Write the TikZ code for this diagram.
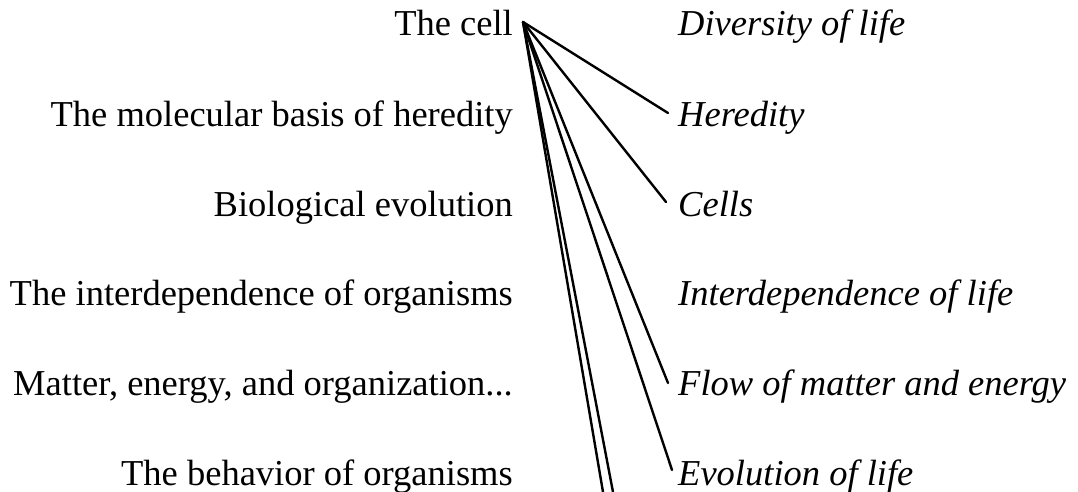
\documentclass[tikz,border=0pt]{standalone}
\usepackage{fontspec}
\setmainfont{Liberation Serif}
\begin{document}
\begin{tikzpicture}[x=1pt,y=-1pt,
  lefttxt/.style={anchor=base east,inner sep=0pt,font=\fontsize{36.5}{40}\selectfont},
  righttxt/.style={anchor=base west,inner sep=0pt,font=\fontsize{36.5}{40}\selectfont\itshape},
  link/.style={line width=2.4pt,line cap=round}]
\useasboundingbox (0,0) rectangle (1078,492);
\node[lefttxt] (l1) at (513,36) {The cell};
\node[lefttxt] (l2) at (513,126) {The molecular basis of heredity};
\node[lefttxt] (l3) at (513,216) {Biological evolution};
\node[lefttxt] (l4) at (513,305) {The interdependence of organisms};
\node[lefttxt] (l5) at (513,395) {Matter, energy, and organization...};
\node[lefttxt] (l6) at (513,485) {The behavior of organisms};
\node[righttxt] (r1) at (678,36) {Diversity of life};
\node[righttxt] (r2) at (678,126) {Heredity};
\node[righttxt] (r3) at (678,216) {Cells};
\node[righttxt] (r4) at (678,305) {Interdependence of life};
\node[righttxt] (r5) at (678,395) {Flow of matter and energy};
\node[righttxt] (r6) at (678,485) {Evolution of life};
\coordinate (o) at (523,22);
\coordinate (e2) at (668,113);
\coordinate (e3) at (666,202);
\coordinate (e5) at (668,383);
\coordinate (e6) at (672,470);
\coordinate (b1) at (603,492);
\coordinate (b2) at (613,492);
\draw[link] (o) -- (e2);
\draw[link] (o) -- (e3);
\draw[link] (o) -- (e5);
\draw[link] (o) -- (e6);
\draw[link] (o) -- (b1);
\draw[link] (o) -- (b2);
\end{tikzpicture}
\end{document}
